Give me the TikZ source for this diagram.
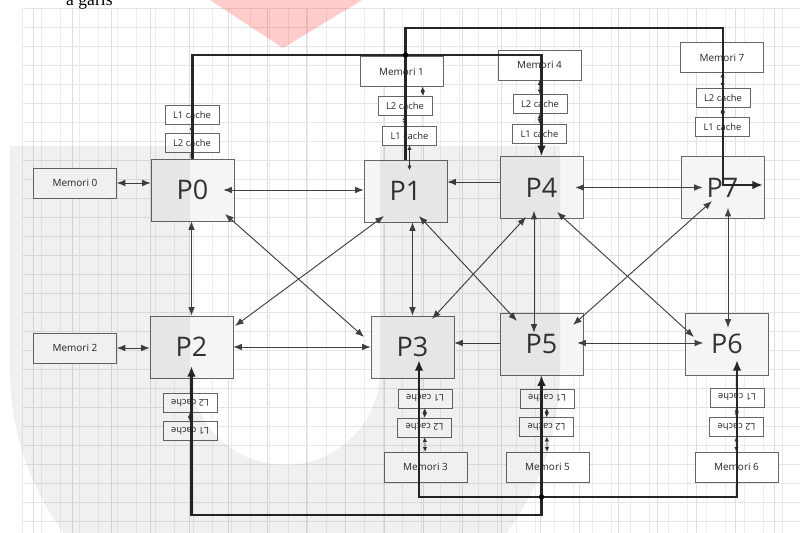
\documentclass[tikz,border=0pt]{standalone}
\usepackage{fontspec}
\setmainfont{Open Sans}
\newfontfamily\docfont{Liberation Serif}
\usetikzlibrary{arrows.meta, positioning, calc}

\tikzset{
  proc/.style={draw=gray!80!black, fill=gray!8, text=black!80, minimum width=2.49cm, minimum height=1.86cm, inner sep=0pt, font=\fontsize{23}{25}\selectfont},
  mem/.style={draw=gray!80!black, fill=white, text=black!85, minimum width=2.49cm, minimum height=0.9cm, inner sep=0pt, font=\fontsize{8.5}{10}\selectfont},
  cache/.style={draw=gray!80!black, fill=white, text=black!85, minimum width=1.62cm, minimum height=0.57cm, inner sep=0pt, font=\fontsize{8}{9}\selectfont},
  cacheflip/.style={cache, rotate=180},
  link/.style={draw=black!75, line width=0.8pt, {Latex[length=2.6mm,width=2mm]}-{Latex[length=2.6mm,width=2mm]}},
  onelink/.style={draw=black!75, line width=0.8pt, -{Latex[length=2.6mm,width=2mm]}},
  hop/.style={draw=black!80, line width=0.6pt, {Latex[length=1.4mm,width=1.3mm]}-{Latex[length=1.4mm,width=1.3mm]}},
  bus/.style={draw=black!85, line width=2.2pt},
  busone/.style={bus, -{Latex[length=3.2mm,width=2.6mm]}},
  bustwo/.style={bus, {Latex[length=3.2mm,width=2.6mm]}-{Latex[length=3.2mm,width=2.6mm]}},
  junction/.style={circle, fill=black, inner sep=0pt, minimum size=1.6mm},
}

\begin{document}
\begin{tikzpicture}[x=0.03cm, y=-0.03cm]
  \useasboundingbox (0,0) rectangle (808,533);
  \fill[white] (0,0) rectangle (808,533);

  % latar grid
  \foreach \gx in {22,41,...,800} {
    \draw[gray!14, line width=0.4pt] (\gx,8) -- (\gx,533);
  }
  \foreach \gx in {33,72,...,800} {
    \draw[gray!26, line width=0.5pt] (\gx,8) -- (\gx,533);
  }
  \foreach \gy in {8,27,...,533} {
    \draw[gray!20, line width=0.4pt] (22,\gy) -- (800,\gy);
  }
  \node[anchor=base west, inner sep=0pt, font=\docfont\fontsize{15}{18}\selectfont] (teks) at (66,5) {a garis};

  % prosesor
  \node[proc] (P0) at (192.5,190) {P0};
  \node[proc] (P1) at (405.5,191) {P1};
  \node[proc] (P4) at (541.5,187.5) {P4};
  \node[proc] (P7) at (722.5,187.5) {P7};
  \node[proc] (P2) at (191.5,347) {P2};
  \node[proc] (P3) at (412.5,347) {P3};
  \node[proc] (P5) at (541.5,344) {P5};
  \node[proc] (P6) at (727,344) {P6};

  % memori
  \node[mem] (M0) at (75,183) {Memori 0};
  \node[mem] (M2) at (75,348) {Memori 2};
  \node[mem] (M1) at (401.5,71.5) {Memori 1};
  \node[mem] (M4) at (539.5,65) {Memori 4};
  \node[mem] (M7) at (722,57.5) {Memori 7};
  \node[mem] (M3) at (425.5,467) {Memori 3};
  \node[mem] (M5) at (547.5,467) {Memori 5};
  \node[mem] (M6) at (736.5,467) {Memori 6};

  % cache atas
  \node[cache] (C0a) at (192,115) {L1 cache};
  \node[cache] (C0b) at (192,143) {L2 cache};
  \node[cache] (C1a) at (405,105.5) {L2 cache};
  \node[cache] (C1b) at (409.5,135.5) {L1 cache};
  \node[cache] (C4a) at (540,104) {L2 cache};
  \node[cache] (C4b) at (539.5,133.5) {L1 cache};
  \node[cache] (C7a) at (723,97.5) {L2 cache};
  \node[cache] (C7b) at (722.5,126.5) {L1 cache};
  % cache bawah (terbalik)
  \node[cacheflip] (C2a) at (190,403) {L2 cache};
  \node[cacheflip] (C2b) at (190,431) {L1 cache};
  \node[cacheflip] (C3a) at (425,398.5) {L1 cache};
  \node[cacheflip] (C3b) at (424.5,427.5) {L2 cache};
  \node[cacheflip] (C5a) at (547,398.5) {L1 cache};
  \node[cacheflip] (C5b) at (546.5,427) {L2 cache};
  \node[cacheflip] (C6a) at (737,397.5) {L1 cache};
  \node[cacheflip] (C6b) at (736.5,427) {L2 cache};

  % jalur memori - cache - prosesor
  \draw[hop] (C0a) -- (C0b);
  \draw[hop] (C0b) -- (P0);
  \draw[hop] ($(M1.south)+(21,0)$) -- ($(C1a.north)+(18,0)$);
  \draw[hop] (C1a.south) -- (C1a.south |- C1b.north);
  \draw[hop] (C1b.south) -- ($(C1b.south)+(0,25)$);
  \draw[hop] (M4) -- (C4a);
  \draw[hop] (C4a) -- (C4b);
  \draw[hop] (M7) -- (C7a);
  \draw[hop] (C7a) -- (C7b);
  \draw[hop] (C2a) -- (C2b);
  \draw[hop] (M3) -- (C3b);
  \draw[hop] (C3b) -- (C3a);
  \draw[hop] (M5) -- (C5b);
  \draw[hop] (C5b) -- (C5a);
  \draw[hop] (M6) -- (C6b);
  \draw[hop] (C6b) -- (C6a);

  % hubungan antar prosesor
  \draw[link] (M0.east) -- (M0.east -| P0.west);
  \draw[link] (M2.east) -- (M2.east -| P2.west);
  \draw[link] ($(P0.east)+(-11,0)$) -- (P1.west |- P0.east);
  \draw[onelink] ($(P4.west)+(0,-5.5)$) -- ($(P1.east)+(0,-9)$);
  \draw[link] ($(P4.east)+(-8,0)$) -- ($(P7.west)+(22,0)$);
  \draw[link] (P0.south -| P2.north) -- (P2.north);
  \draw[link] (P2.east) -- (P3.west);
  \draw[onelink] ($(P5.west)+(0,-1)$) -- ($(P3.east)+(0,-4)$);
  \draw[link] ($(P5.east)+(-6,-1)$) -- ($(P6.west)+(18,-1)$);
  \draw[link] (P3.north |- P1.south) -- (P3.north);
  \draw[link] ($(P4.south)+(-7.5,-8)$) -- ($(P5.north)+(-7.5,20)$);
  \draw[link] ($(P7.south)+(5.5,-11)$) -- ($(P6.north)+(1,15)$);
  \draw[link] ($(P0)+(32.5,24)$) -- ($(P3)+(-48.5,-10)$);
  \draw[link] ($(P2)+(43.5,-21)$) -- ($(P1)+(-21.5,25)$);
  \draw[link] ($(P1)+(13.5,25)$) -- ($(P5)+(-24.5,-23)$);
  \draw[link] ($(P3)+(19.5,-28)$) -- ($(P4)+(-15.5,29.5)$);
  \draw[link] ($(P4)+(15.5,24.5)$) -- ($(P6)+(-33,-7)$);
  \draw[link] ($(P5)+(31.5,-19)$) -- ($(P7)+(-10.5,13.5)$);

  % jalur tebal
  \coordinate (a1) at (192.5,55);
  \coordinate (a2) at (541.5,55);
  \coordinate (b1) at (405.5,28);
  \coordinate (b2) at (723,28);
  \coordinate (b3) at (723,185);
  \coordinate (b4) at (763,185);
  \coordinate (c1) at (191.5,515);
  \coordinate (c2) at (541.5,515);
  \coordinate (d1) at (419,497);
  \coordinate (d2) at (737,497);
  \draw[busone] (P0.north) -- (a1) -- (a2) -- (P4.north);
  \draw[busone] (P1.north) -- (b1) -- (b2) -- (b3) -- (b4);
  \draw[bustwo] ($(P2)+(0,19)$) -- (c1) -- (c2) -- (P5.south);
  \draw[bustwo] ($(P3)+(6.5,13)$) -- (d1) -- (d2) -- ($(P6)+(10,16)$);
  \node[junction] (j1) at (405.5,55) {};
  \node[junction] (j2) at (541.5,497) {};

  % watermark
  \fill[black, fill opacity=0.06, even odd rule]
    (10,146) -- (10,370) arc (180:0:275) -- (560,146) -- cycle
    (190,146) -- (190,370) arc (180:0:95) -- (380,146) -- cycle;
  \fill[red, fill opacity=0.2] (210,0) -- (362,0) -- (283,48) -- cycle;
\end{tikzpicture}
\end{document}
